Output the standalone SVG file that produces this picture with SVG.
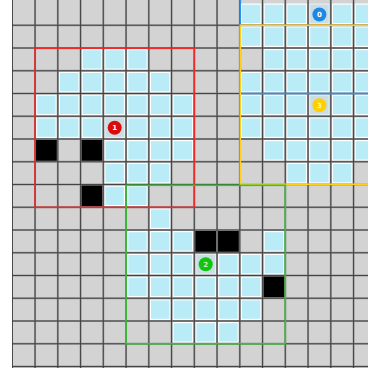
<svg xmlns="http://www.w3.org/2000/svg" xmlns:xlink="http://www.w3.org/1999/xlink" width="368" height="368" viewBox="0 0 368 368">
<style>
.gl{stroke:#9c9c9c;stroke-width:2;fill:none}
.gd{stroke:#3a3a3a;stroke-width:0.9;fill:none}
.box{fill:none;stroke-width:1.6}
.lbl{font-family:"DejaVu Sans","Liberation Sans",sans-serif;font-size:7px;font-weight:bold;fill:#fff;text-anchor:middle;dominant-baseline:central}
</style>
<defs>
<g id="b"><rect x="1" y="1" width="20.75" height="20.75" fill="#fff"/><rect x="2.2" y="2.2" width="18.35" height="18.35" fill="#b9ecf6"/></g>
<g id="m"><rect x="1" y="1" width="20.75" height="20.75" fill="#e4eef1"/><rect x="2.2" y="2.2" width="18.35" height="18.35" fill="#c8dee4"/></g>
<rect id="k" width="22.75" height="22.75" fill="#000"/>
</defs>
<rect width="368" height="368" fill="#fff"/>
<rect x="12.3" y="0" width="356" height="368" fill="#d3d3d3"/>
<g id="cells">
<use href="#b" x="239.8" y="2.5"/><use href="#b" x="262.55" y="2.5"/><use href="#b" x="285.3" y="2.5"/><use href="#m" x="308.05" y="2.5"/><use href="#b" x="330.8" y="2.5"/><use href="#b" x="353.55" y="2.5"/>
<use href="#b" x="239.8" y="25.25"/><use href="#b" x="262.55" y="25.25"/><use href="#b" x="285.3" y="25.25"/><use href="#b" x="308.05" y="25.25"/><use href="#b" x="330.8" y="25.25"/><use href="#b" x="353.55" y="25.25"/>
<use href="#b" x="80.55" y="48"/><use href="#b" x="103.3" y="48"/><use href="#b" x="126.05" y="48"/>
<use href="#b" x="262.55" y="48"/><use href="#b" x="285.3" y="48"/><use href="#b" x="308.05" y="48"/><use href="#b" x="330.8" y="48"/><use href="#b" x="353.55" y="48"/>
<use href="#b" x="57.8" y="70.75"/><use href="#b" x="80.55" y="70.75"/><use href="#b" x="103.3" y="70.75"/><use href="#b" x="126.05" y="70.75"/><use href="#b" x="148.8" y="70.75"/>
<use href="#b" x="239.8" y="70.75"/><use href="#b" x="262.55" y="70.75"/><use href="#b" x="285.3" y="70.75"/><use href="#b" x="308.05" y="70.75"/><use href="#b" x="330.8" y="70.75"/><use href="#b" x="353.55" y="70.75"/>
<use href="#b" x="35.05" y="93.5"/><use href="#b" x="57.8" y="93.5"/><use href="#b" x="80.55" y="93.5"/><use href="#b" x="103.3" y="93.5"/><use href="#b" x="126.05" y="93.5"/><use href="#b" x="148.8" y="93.5"/><use href="#b" x="171.55" y="93.5"/>
<use href="#b" x="239.8" y="93.5"/><use href="#b" x="262.55" y="93.5"/><use href="#b" x="285.3" y="93.5"/><use href="#m" x="308.05" y="93.5"/><use href="#b" x="330.8" y="93.5"/><use href="#b" x="353.55" y="93.5"/>
<use href="#b" x="35.05" y="116.25"/><use href="#b" x="57.8" y="116.25"/><use href="#b" x="80.55" y="116.25"/><use href="#m" x="103.3" y="116.25"/><use href="#b" x="126.05" y="116.25"/><use href="#b" x="148.8" y="116.25"/><use href="#b" x="171.55" y="116.25"/>
<use href="#b" x="239.8" y="116.25"/><use href="#b" x="262.55" y="116.25"/><use href="#b" x="285.3" y="116.25"/><use href="#b" x="308.05" y="116.25"/><use href="#b" x="330.8" y="116.25"/><use href="#b" x="353.55" y="116.25"/>
<use href="#k" x="35.05" y="139"/><use href="#k" x="80.55" y="139"/>
<use href="#b" x="103.3" y="139"/><use href="#b" x="126.05" y="139"/><use href="#b" x="148.8" y="139"/><use href="#b" x="171.55" y="139"/>
<use href="#b" x="262.55" y="139"/><use href="#b" x="285.3" y="139"/><use href="#b" x="308.05" y="139"/><use href="#b" x="330.8" y="139"/><use href="#b" x="353.55" y="139"/>
<use href="#b" x="103.3" y="161.75"/><use href="#b" x="126.05" y="161.75"/><use href="#b" x="148.8" y="161.75"/>
<use href="#b" x="285.3" y="161.75"/><use href="#b" x="308.05" y="161.75"/><use href="#b" x="330.8" y="161.75"/>
<use href="#k" x="80.55" y="184.5"/><use href="#b" x="103.3" y="184.5"/><use href="#b" x="126.05" y="184.5"/>
<use href="#b" x="148.8" y="207.25"/>
<use href="#b" x="126.05" y="230"/><use href="#b" x="148.8" y="230"/><use href="#b" x="171.55" y="230"/><use href="#k" x="194.3" y="230"/><use href="#k" x="217.05" y="230"/><use href="#b" x="262.55" y="230"/>
<use href="#b" x="126.05" y="252.75"/><use href="#b" x="148.8" y="252.75"/><use href="#b" x="171.55" y="252.75"/><use href="#m" x="194.3" y="252.75"/><use href="#b" x="217.05" y="252.75"/><use href="#b" x="239.8" y="252.75"/><use href="#b" x="262.55" y="252.75"/>
<use href="#b" x="126.05" y="275.5"/><use href="#b" x="148.8" y="275.5"/><use href="#b" x="171.55" y="275.5"/><use href="#b" x="194.3" y="275.5"/><use href="#b" x="217.05" y="275.5"/><use href="#b" x="239.8" y="275.5"/><use href="#k" x="262.55" y="275.5"/>
<use href="#b" x="148.8" y="298.25"/><use href="#b" x="171.55" y="298.25"/><use href="#b" x="194.3" y="298.25"/><use href="#b" x="217.05" y="298.25"/><use href="#b" x="239.8" y="298.25"/>
<use href="#b" x="171.55" y="321"/><use href="#b" x="194.3" y="321"/><use href="#b" x="217.05" y="321"/>
</g>
<g id="grid">
<path class="gl" d="M35.05 0V368M57.8 0V368M80.55 0V368M103.3 0V368M126.05 0V368M148.8 0V368M171.55 0V368M194.3 0V368M217.05 0V368M239.8 0V368M262.55 0V368M285.3 0V368M308.05 0V368M330.8 0V368M353.55 0V368M12.3 25.25H368M12.3 48H368M12.3 70.75H368M12.3 93.5H368M12.3 116.25H368M12.3 139H368M12.3 161.75H368M12.3 184.5H368M12.3 207.25H368M12.3 230H368M12.3 252.75H368M12.3 275.5H368M12.3 298.25H368M12.3 321H368M12.3 343.75H368M12.3 366.5H368"/>
<path class="gd" d="M12.5 0V368M35.05 0V368M57.8 0V368M80.55 0V368M103.3 0V368M126.05 0V368M148.8 0V368M171.55 0V368M194.3 0V368M217.05 0V368M239.8 0V368M262.55 0V368M285.3 0V368M308.05 0V368M330.8 0V368M353.55 0V368M12.3 25.25H368M12.3 48H368M12.3 70.75H368M12.3 93.5H368M12.3 116.25H368M12.3 139H368M12.3 161.75H368M12.3 184.5H368M12.3 207.25H368M12.3 230H368M12.3 252.75H368M12.3 275.5H368M12.3 298.25H368M12.3 321H368M12.3 343.75H368M12.3 366.5H368"/>
</g>
<g id="views">
<rect class="box" x="240.3" y="-70" width="200" height="163.5" stroke="#2f8ff0"/>
<rect class="box" x="240.3" y="25.25" width="200" height="159" stroke="#ffcf1a"/>
<rect class="box" x="35.05" y="48.3" width="159.25" height="159" stroke="#ee2a2a"/>
<rect class="box" x="126.05" y="185.3" width="159.25" height="158.45" stroke="#33c433"/>
</g>
<g id="agent0"><circle cx="319.4" cy="14.5" r="7" fill="#1e88e5"/><text class="lbl" x="319.4" y="14.8">0</text></g>
<g id="agent1"><circle cx="114.7" cy="127.8" r="7" fill="#dd0a0a"/><text class="lbl" x="114.7" y="128.1">1</text></g>
<g id="agent2"><circle cx="205.7" cy="264.3" r="7" fill="#11c411"/><text class="lbl" x="205.7" y="264.6" style="fill-opacity:.75">2</text></g>
<g id="agent3"><circle cx="319.4" cy="105.2" r="7" fill="#ffd000"/><text class="lbl" x="319.4" y="105.5" style="fill-opacity:.75">3</text></g>
</svg>
